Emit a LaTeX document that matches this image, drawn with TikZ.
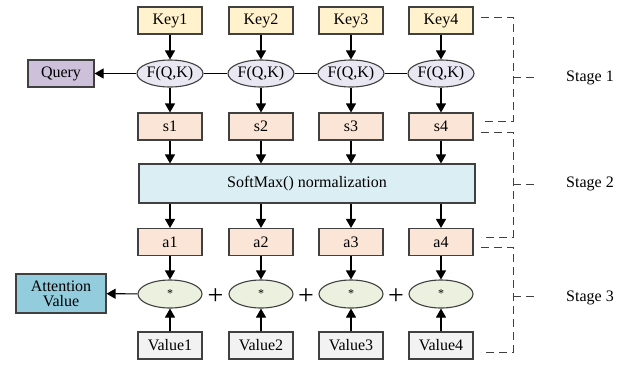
\documentclass[tikz,border=0pt]{standalone}
\usepackage{fontspec}
\setmainfont{Liberation Serif}
\usetikzlibrary{arrows.meta,calc,shapes.geometric}
\definecolor{keyc}{HTML}{FFF2CC}
\definecolor{sc}{HTML}{FBE5D6}
\definecolor{fc}{HTML}{E9E7F1}
\definecolor{starc}{HTML}{EBF1DE}
\definecolor{valc}{HTML}{F2F2F2}
\definecolor{qc}{HTML}{CCC0DA}
\definecolor{attc}{HTML}{93CDDD}
\definecolor{smc}{HTML}{DAEEF3}
\definecolor{bordc}{HTML}{404040}
\tikzset{
  base/.style={draw=bordc, line width=1.1pt, inner sep=0pt, font=\fontsize{16}{18}\selectfont},
  box/.style={base, rectangle, minimum width=64pt, minimum height=27pt},
  ell/.style={base, ellipse, minimum width=64pt, minimum height=27pt},
  arr/.style={line width=1.1pt, -{Triangle[length=9pt,width=10pt]}},
  conn/.style={line width=1.1pt},
  brk/.style={line width=0.9pt, draw=bordc, dash pattern=on 8pt off 5pt},
  lbl/.style={font=\fontsize{16}{18}\selectfont},
  plus/.style={font=\fontsize{28}{28}\selectfont, inner sep=0pt}
}
\begin{document}
\begin{tikzpicture}[x=1pt,y=-1pt]
\useasboundingbox (0,0) rectangle (638,365);
\foreach \i/\x in {1/170,2/261,3/351,4/441}{
  \node[box, fill=keyc] (k\i) at (\x,20.5) {Key\i};
  \node[ell, fill=fc] (f\i) at (\x,73.5) {F(Q,K)};
  \node[box, fill=sc] (s\i) at (\x,126.5) {s\i};
  \node[box, fill=sc] (a\i) at (\x,242) {a\i};
  \node[ell, fill=starc, minimum height=28pt] (m\i) at (\x,294) {\fontsize{12}{12}\selectfont *};
  \node[box, fill=valc] (v\i) at (\x,345.5) {Value\i};
}
\node[box, fill=smc, minimum width=336pt, minimum height=39pt] (sm) at (307,183.5) {SoftMax() normalization};
\node[box, fill=qc, minimum width=66pt] (q) at (61,73.5) {Query};
\node[box, fill=attc, minimum width=90pt, minimum height=39pt, align=center] (att) at (61,293.5) {Attention\\[-3pt]Value};
\foreach \i in {1,2,3,4}{
  \draw[arr] (k\i) -- (f\i);
  \draw[arr] (f\i) -- (s\i);
  \draw[arr] (s\i) -- (s\i |- sm.north);
  \draw[arr] (a\i |- sm.south) -- (a\i);
  \draw[arr] (a\i) -- (m\i);
  \draw[arr] (v\i) -- (m\i);
}
\draw[conn] (f1) -- (f2);
\draw[conn] (f2) -- (f3);
\draw[conn] (f3) -- (f4);
\draw[arr] (f1) -- (q);
\draw[arr] (m1) -- (att);
\node[plus] (p1) at ($(m1.east)!0.5!(m2.west)+(0,3)$) {+};
\node[plus] (p2) at ($(m2.east)!0.5!(m3.west)+(0,3)$) {+};
\node[plus] (p3) at ($(m3.east)!0.5!(m4.west)+(0,3)$) {+};
% Stage brackets
\coordinate (b1a) at (481,17);
\coordinate (b1b) at (481,121);
\coordinate (b2a) at (481,132);
\coordinate (b2b) at (481,237);
\coordinate (b3a) at (481,247);
\coordinate (b3b) at (481,352);
\node[lbl] (st1) at (590,78) {Stage 1};
\node[lbl] (st2) at (590,184) {Stage 2};
\node[lbl] (st3) at (590,298) {Stage 3};
\draw[brk] (b1a) -- ++(32,0) |- (b1b);
\draw[brk] (513,77) -- (537,77);
\draw[brk] (b2a) -- ++(32,0) |- (b2b);
\draw[brk] (513,184) -- (537,184);
\draw[brk] (b3a) -- ++(32,0) |- (b3b);
\draw[brk] (513,296) -- (537,296);
\end{tikzpicture}
\end{document}
